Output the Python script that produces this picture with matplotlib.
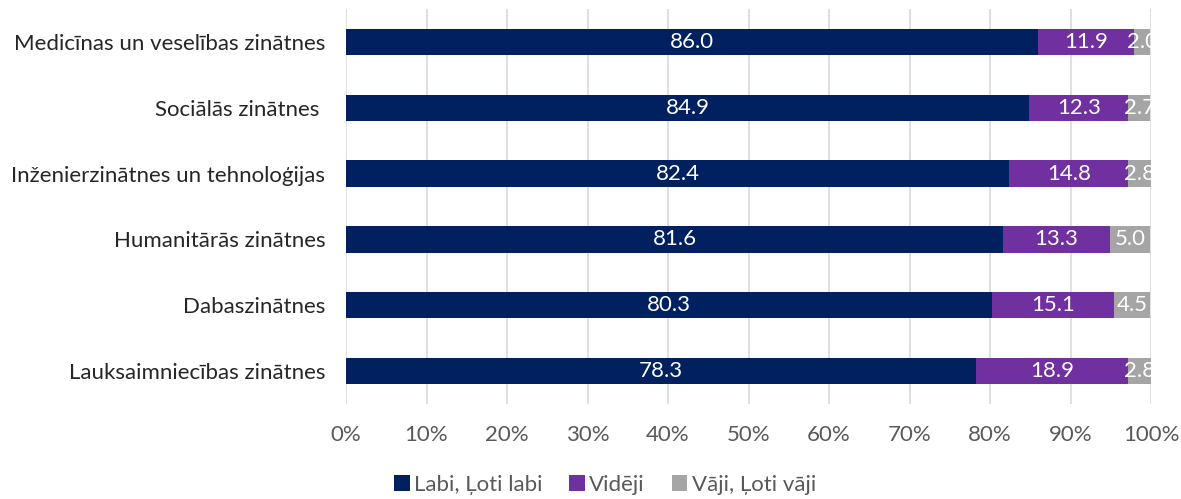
import matplotlib
matplotlib.use("Agg")
import matplotlib.pyplot as plt
from matplotlib.ticker import FuncFormatter

categories = ["Medicīnas un veselības zinātnes", "Sociālās zinātnes ", "Inženierzinātnes un tehnoloģijas",
              "Humanitārās zinātnes", "Dabaszinātnes", "Lauksaimniecības zinātnes"]
good = [86.0, 84.9, 82.4, 81.6, 80.3, 78.3]
mid = [11.9, 12.3, 14.8, 13.3, 15.1, 18.9]
bad = [2.0, 2.7, 2.8, 5.0, 4.5, 2.8]
series_names = ["Labi, Ļoti labi", "Vidēji", "Vāji, Ļoti vāji"]
colors = ["#002060", "#7030A0", "#A5A5A5"]

plt.rcParams['font.family'] = ['Lato', 'DejaVu Sans']
fig = plt.figure(figsize=(11.81, 4.99), dpi=100)
ax = fig.add_axes([346/1181, 1-404/499, (1151-346)/1181, (404-9)/499])

y = list(range(len(categories)))
left = [0]*len(categories)
for vals, name, c in zip([good, mid, bad], series_names, colors):
    ax.barh(y, vals, left=left, height=0.4, color=c, label=name, zorder=3)
    for yi, l, v in zip(y, left, vals):
        ax.text(l + v/2, yi, f"{v:.1f}", ha="center", va="center", color="white",
                fontsize=16, zorder=4, clip_on=True)
    left = [a+b for a, b in zip(left, vals)]

ax.set_xlim(0, 100)
ax.set_ylim(len(categories)-0.5, -0.5)
ax.set_yticks(y)
ax.set_yticklabels(categories, fontsize=16, color="#262626")
ax.set_xticks(range(0, 101, 10))
ax.xaxis.set_major_formatter(FuncFormatter(lambda v, p: f"{int(v)}%"))
ax.tick_params(axis='x', labelsize=16, labelcolor="#595959", length=0, pad=15)
ax.tick_params(axis='y', length=0, pad=15)
ax.grid(axis='x', color="#D9D9D9", linewidth=1.2, zorder=0)
for s in ax.spines.values():
    s.set_visible(False)

ax.legend(loc="center", bbox_to_anchor=(605/1181, 1-485/499), bbox_transform=fig.transFigure,
          ncol=3, frameon=False, fontsize=16, handlelength=0.7, handleheight=0.7,
          handletextpad=0.2, columnspacing=1.2, labelcolor="#595959")

fig.savefig("out.png", dpi=100)
